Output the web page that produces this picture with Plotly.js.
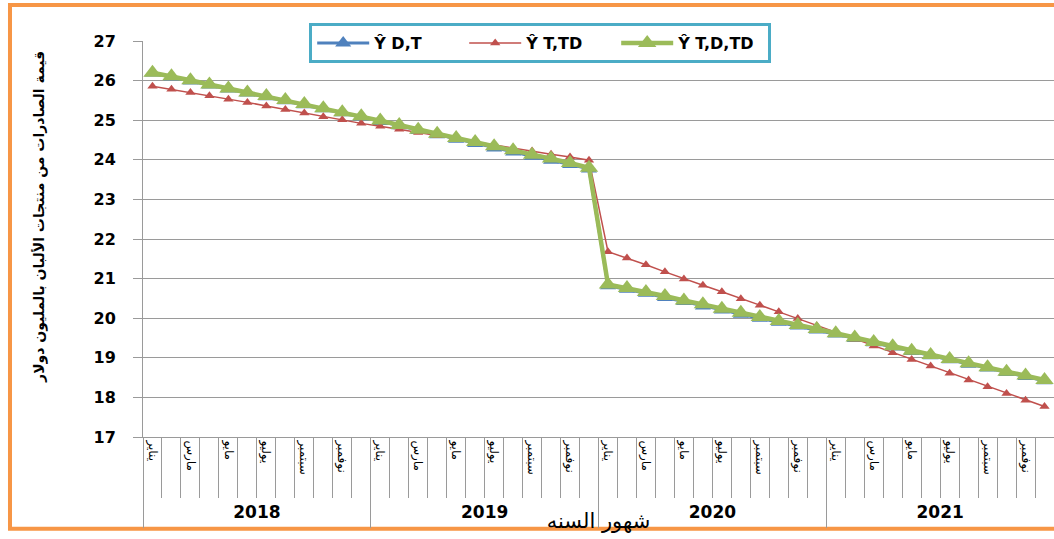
<!DOCTYPE html>
<html><head><meta charset="utf-8">
<script src="https://cdn.plot.ly/plotly-3.0.1.min.js"></script>
<style>html,body{margin:0;padding:0;background:#fff}#chart{width:1054px;height:539px}</style>
</head><body><div id="chart"></div>
<script>
const years = ['2018','2019','2020','2021'];
const monthLabels = ['يناير','مارس','مايو','يوليو','سبتمبر','نوفمبر'];
const seriesNames = ['Ŷ D,T','Ŷ T,TD','Ŷ T,D,TD'];

const yDT = [
  26.19,26.09,25.99,25.89,25.79,25.69,25.59,25.49,25.39,25.29,25.19,25.08,
  24.97,24.86,24.74,24.63,24.52,24.41,24.30,24.20,24.09,23.99,23.88,23.77,
  20.82,20.73,20.63,20.52,20.42,20.31,20.21,20.10,20.00,19.90,19.80,19.70,
  19.60,19.49,19.38,19.27,19.16,19.05,18.95,18.84,18.74,18.63,18.53,18.42
];
const yTTD = [
  25.86,25.78,25.70,25.62,25.53,25.45,25.36,25.27,25.18,25.09,25.01,24.92,
  24.85,24.77,24.69,24.61,24.53,24.45,24.37,24.29,24.22,24.14,24.07,23.99,
  21.68,21.52,21.35,21.17,20.99,20.83,20.67,20.49,20.33,20.16,19.99,19.81,
  19.64,19.47,19.30,19.13,18.96,18.79,18.61,18.44,18.27,18.10,17.93,17.77
];
const yTDTD = [
  26.20,26.11,26.01,25.90,25.80,25.70,25.61,25.51,25.41,25.30,25.20,25.10,
  24.99,24.88,24.76,24.66,24.55,24.45,24.34,24.24,24.13,24.03,23.92,23.80,
  20.85,20.76,20.66,20.56,20.45,20.35,20.24,20.14,20.03,19.93,19.83,19.73,
  19.62,19.51,19.40,19.29,19.18,19.07,18.97,18.86,18.76,18.65,18.55,18.44
];

const xs = yDT.map((_, i) => i + 1);
const monthTickVals = [], monthTickText = [];
years.forEach((yr, yi) => monthLabels.forEach((m, k) => { monthTickVals.push(yi * 12 + 2 * k + 1); monthTickText.push(m); }));
const yearTickVals = years.map((_, yi) => yi * 12 + 6.5);
const yearBounds = [0.5].concat(years.map((_, yi) => (yi + 1) * 12 + 0.5));

const AR = 'DejaVu Sans, sans-serif';
const grid = '#9a9a9a';

const traces = [
  {x: xs, y: yDT, name: seriesNames[0], mode: 'lines+markers', line: {color: '#4F81BD', width: 3},
   marker: {symbol: 'triangle-up', size: 14, color: '#4F81BD'}},
  {x: xs, y: yTTD, name: seriesNames[1], mode: 'lines+markers', line: {color: '#C0504D', width: 1.5},
   marker: {symbol: 'triangle-up', size: 9, color: '#C0504D'}},
  {x: xs, y: yTDTD, name: seriesNames[2], mode: 'lines+markers', line: {color: '#9BBB59', width: 4.5},
   marker: {symbol: 'triangle-up', size: 16, color: '#9BBB59'}},
  {x: [], y: [], xaxis: 'x2', yaxis: 'y', showlegend: false, hoverinfo: 'skip', mode: 'lines'}
];

const layout = {
  width: 1054, height: 539,
  margin: {l: 143, r: 0, t: 41, b: 102},
  paper_bgcolor: '#fff', plot_bgcolor: '#fff',
  showlegend: true,
  xaxis: {
    range: [0.5, 48.5], tickmode: 'array', tickvals: monthTickVals, ticktext: monthTickText,
    tickangle: 90, ticks: '', showline: true, linecolor: grid, linewidth: 1,
    showgrid: false, zeroline: false,
    tickfont: {family: AR, size: 12, color: '#000'},
    minor: {tickmode: 'linear', tick0: 0.5, dtick: 1, ticks: 'outside', ticklen: 60, tickcolor: grid, tickwidth: 1, showgrid: false},
    title: {text: 'شهور السنه', font: {family: AR, size: 21, color: '#000'}, standoff: 39}
  },
  xaxis2: {
    overlaying: 'x', anchor: 'y', side: 'bottom', range: [0.5, 48.5],
    tickmode: 'array', tickvals: yearTickVals, ticktext: years, ticks: '',
    ticklabelstandoff: 63, showline: false, showgrid: false, zeroline: false,
    tickfont: {family: AR, size: 17, weight: 'bold', color: '#000'},
    minor: {tickmode: 'array', tickvals: yearBounds, ticks: 'outside', ticklen: 90, tickcolor: grid, tickwidth: 1, showgrid: false}
  },
  yaxis: {
    range: [17, 27], tick0: 17, dtick: 1, ticks: 'outside', ticklen: 9, tickcolor: grid,
    showline: true, linecolor: grid, showgrid: true, gridcolor: grid, gridwidth: 1, zeroline: false,
    ticklabelstandoff: 14,
    tickfont: {family: AR, size: 16, weight: 'bold', color: '#000'}
  },
  legend: {
    orientation: 'h', x: 0.436, xanchor: 'center', y: 1.045, yanchor: 'top',
    bgcolor: '#fff', bordercolor: '#4BACC6', borderwidth: 3,
    itemwidth: 52, entrywidth: 85, entrywidthmode: 'pixels',
    font: {family: AR, size: 16, weight: 'bold', color: '#000'}
  },
  annotations: [{
    text: 'قيمة الصادرات من منتجات الألبان بالمليون دولار',
    xref: 'paper', yref: 'paper', x: -0.113, y: 0.556, textangle: -90,
    showarrow: false, xanchor: 'center', yanchor: 'middle',
    font: {family: AR, size: 14, weight: 'bold', color: '#000'}
  }],
  shapes: [{
    type: 'rect', xref: 'paper', yref: 'paper',
    x0: -0.146, x1: 1.02, y0: -0.232, y1: 1.091,
    line: {color: '#F79646', width: 4}, fillcolor: 'rgba(0,0,0,0)', layer: 'below'
  }]
};

Plotly.newPlot('chart', traces, layout, {displayModeBar: false, staticPlot: true});
</script></body></html>
